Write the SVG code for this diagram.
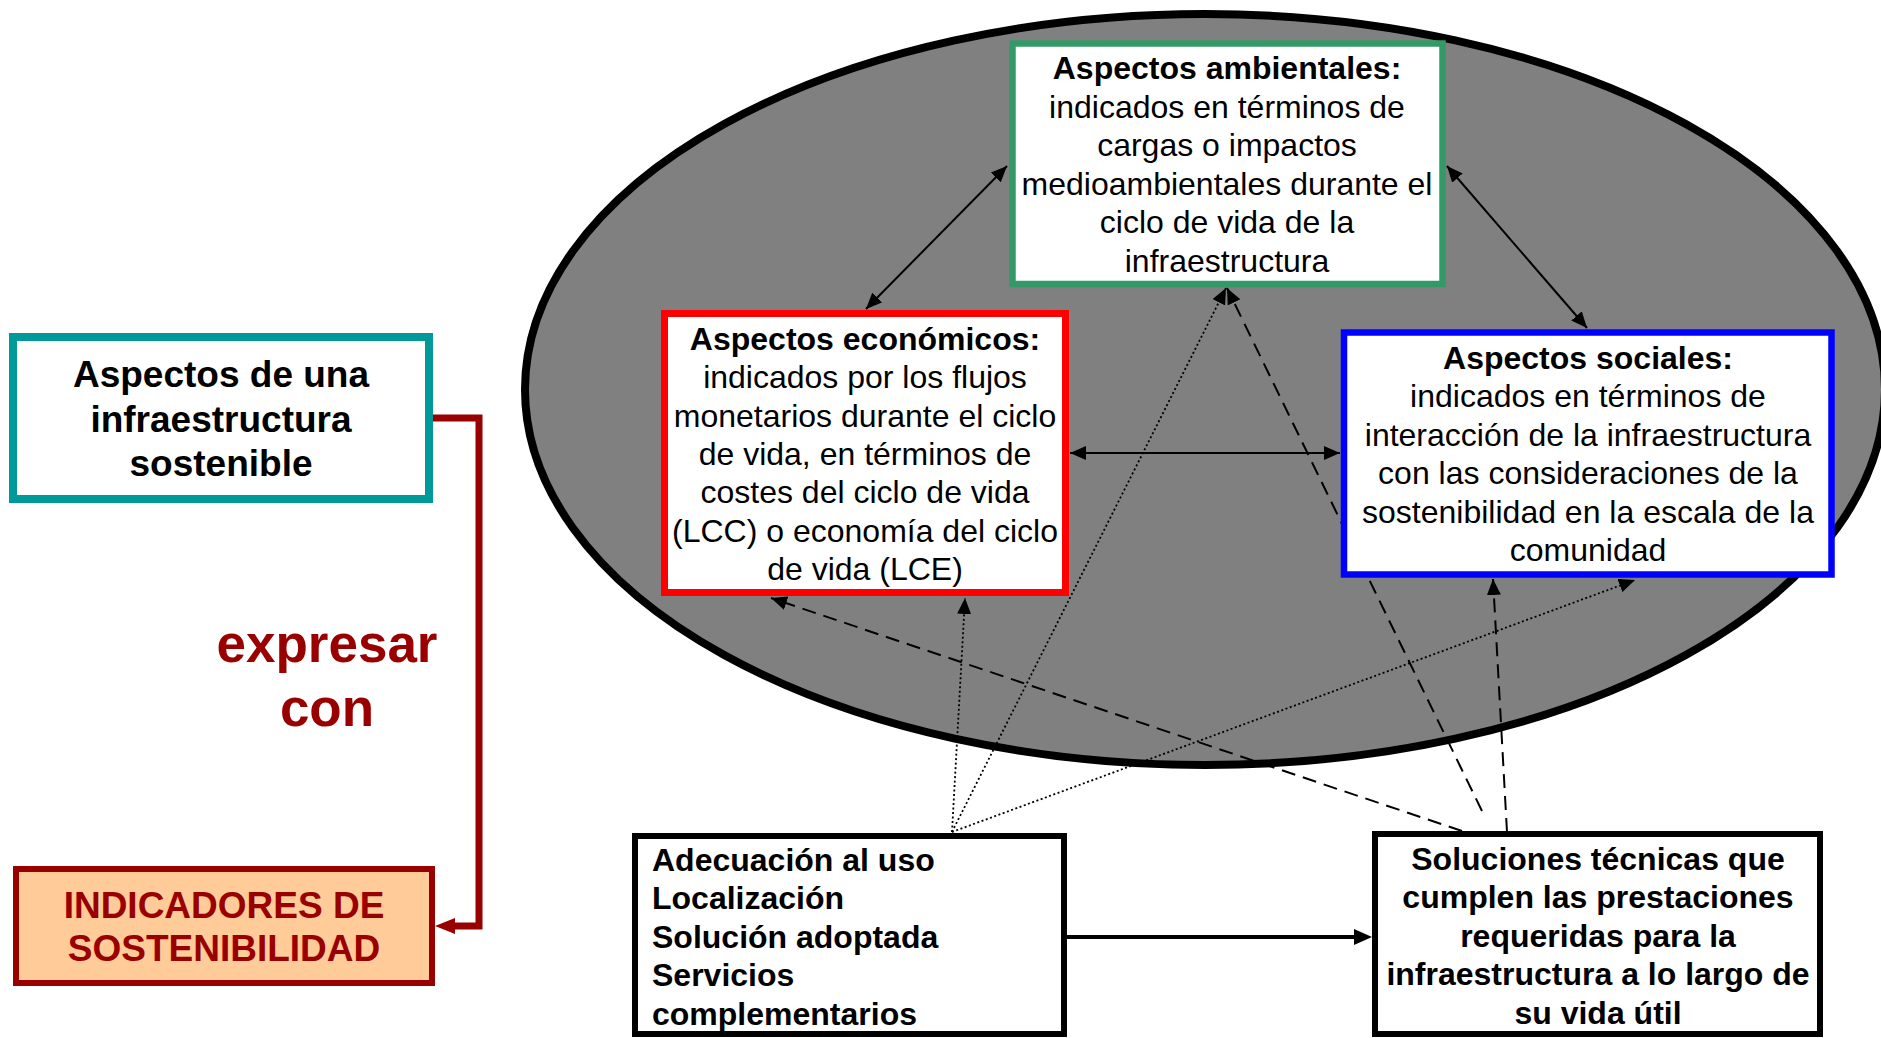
<svg xmlns="http://www.w3.org/2000/svg" width="1881" height="1038" viewBox="0 0 1881 1038">
<style>
  text { font-family: "Liberation Sans", Arial, Helvetica, sans-serif; fill: #000; }
  .b { font-weight: bold; }
  .c { text-anchor: middle; }
  .s32 { font-size: 32px; }
  .s37 { font-size: 37px; }
  .thin { fill: none; stroke: #000; stroke-width: 2; }
  .dot { fill: none; stroke: #000; stroke-width: 1.8; stroke-dasharray: 2 2.5; }
  .dash { fill: none; stroke: #000; stroke-width: 2; stroke-dasharray: 14 8; }
</style>
<defs>
  <marker id="ah" viewBox="0 0 16 14" refX="16" refY="7" markerWidth="16" markerHeight="14" markerUnits="userSpaceOnUse" orient="auto-start-reverse">
    <path d="M0,0 L16,7 L0,14 z" fill="#000"/>
  </marker>
  <marker id="ahBig" viewBox="0 0 18 16" refX="0" refY="8" markerWidth="18" markerHeight="16" markerUnits="userSpaceOnUse" orient="auto">
    <path d="M0,0 L18,8 L0,16 z" fill="#000"/>
  </marker>
  <marker id="ahRed" viewBox="0 0 20 16" refX="0" refY="8" markerWidth="20" markerHeight="16" markerUnits="userSpaceOnUse" orient="auto">
    <path d="M0,0 L20,8 L0,16 z" fill="#990000"/>
  </marker>
</defs>

<g id="ellipse-context">
  <ellipse cx="1205" cy="389.5" rx="680" ry="375.5" fill="#808080" stroke="#000" stroke-width="8"/>
</g>

<g id="connectors">
  <path d="M433,418 H479 V926 H455" fill="none" stroke="#990000" stroke-width="7" marker-end="url(#ahRed)"/>
  <line class="thin" x1="1007" y1="166" x2="866" y2="309" marker-start="url(#ah)" marker-end="url(#ah)"/>
  <line class="thin" x1="1447" y1="166" x2="1587" y2="328" marker-start="url(#ah)" marker-end="url(#ah)"/>
  <line class="thin" x1="1070" y1="453" x2="1340" y2="453" marker-start="url(#ah)" marker-end="url(#ah)"/>
  <line class="dot" x1="952" y1="832" x2="1226" y2="288" marker-end="url(#ah)"/>
  <line class="dot" x1="952" y1="832" x2="965" y2="598" marker-end="url(#ah)"/>
  <line class="dot" x1="952" y1="832" x2="1635" y2="580" marker-end="url(#ah)"/>
  <line class="dash" x1="1462" y1="831" x2="771" y2="598" marker-end="url(#ah)"/>
  <line class="dash" x1="1482" y1="811" x2="1227" y2="288" marker-end="url(#ah)"/>
  <line class="dash" x1="1507" y1="832" x2="1493" y2="579" marker-end="url(#ah)"/>
  <line x1="1067" y1="937" x2="1354" y2="937" stroke="#000" stroke-width="4" marker-end="url(#ahBig)"/>
</g>

<g id="node-sostenible">
  <rect x="13" y="337" width="416" height="162" fill="#fff" stroke="#009999" stroke-width="8"/>
  <text class="b c s37" x="221" y="387">Aspectos de una</text>
  <text class="b c s37" x="221" y="432">infraestructura</text>
  <text class="b c s37" x="221" y="476">sostenible</text>
</g>

<g id="label-expresar">
  <text class="b c" x="327" y="662" style="font-size:53px; fill:#990000">expresar</text>
  <text class="b c" x="327" y="726" style="font-size:53px; fill:#990000">con</text>
</g>

<g id="node-indicadores">
  <rect x="16" y="869" width="416" height="114" fill="#FFCC99" stroke="#990000" stroke-width="6"/>
  <text class="b c s37" x="224" y="918" style="fill:#990000">INDICADORES DE</text>
  <text class="b c s37" x="224" y="961" style="fill:#990000">SOSTENIBILIDAD</text>
</g>

<g id="node-ambientales">
  <rect x="1012.5" y="43.5" width="430" height="240.5" fill="#fff" stroke="#339966" stroke-width="6.5"/>
  <text class="b c s32" x="1227" y="79">Aspectos ambientales:</text>
  <text class="c s32" x="1227" y="117.5">indicados en términos de</text>
  <text class="c s32" x="1227" y="156">cargas o impactos</text>
  <text class="c s32" x="1227" y="194.5">medioambientales durante el</text>
  <text class="c s32" x="1227" y="233">ciclo de vida de la</text>
  <text class="c s32" x="1227" y="271.5">infraestructura</text>
</g>

<g id="node-economicos">
  <rect x="664.5" y="313.5" width="401" height="279" fill="#fff" stroke="#ff0000" stroke-width="7"/>
  <text class="b c s32" x="865" y="350">Aspectos económicos:</text>
  <text class="c s32" x="865" y="388.3">indicados por los flujos</text>
  <text class="c s32" x="865" y="426.6">monetarios durante el ciclo</text>
  <text class="c s32" x="865" y="464.9">de vida, en términos de</text>
  <text class="c s32" x="865" y="503.2">costes del ciclo de vida</text>
  <text class="c s32" x="865" y="541.5">(LCC) o economía del ciclo</text>
  <text class="c s32" x="865" y="579.8">de vida (LCE)</text>
</g>

<g id="node-sociales">
  <rect x="1344" y="332.5" width="487.5" height="242" fill="#fff" stroke="#0000ff" stroke-width="6.5"/>
  <text class="b c s32" x="1588" y="369">Aspectos sociales:</text>
  <text class="c s32" x="1588" y="407.4">indicados en términos de</text>
  <text class="c s32" x="1588" y="445.8">interacción de la infraestructura</text>
  <text class="c s32" x="1588" y="484.2">con las consideraciones de la</text>
  <text class="c s32" x="1588" y="522.6">sostenibilidad en la escala de la</text>
  <text class="c s32" x="1588" y="561">comunidad</text>
</g>

<g id="node-adecuacion">
  <rect x="635" y="836" width="429" height="198" fill="#fff" stroke="#000" stroke-width="6"/>
  <text class="b s32" x="652" y="871">Adecuación al uso</text>
  <text class="b s32" x="652" y="909.4">Localización</text>
  <text class="b s32" x="652" y="947.8">Solución adoptada</text>
  <text class="b s32" x="652" y="986.2">Servicios</text>
  <text class="b s32" x="652" y="1024.6">complementarios</text>
</g>

<g id="node-soluciones">
  <rect x="1375" y="834" width="445" height="200" fill="#fff" stroke="#000" stroke-width="6"/>
  <text class="b c s32" x="1598" y="870">Soluciones técnicas que</text>
  <text class="b c s32" x="1598" y="908.4">cumplen las prestaciones</text>
  <text class="b c s32" x="1598" y="946.8">requeridas para la</text>
  <text class="b c s32" x="1598" y="985.2">infraestructura a lo largo de</text>
  <text class="b c s32" x="1598" y="1023.6">su vida útil</text>
</g>
</svg>
